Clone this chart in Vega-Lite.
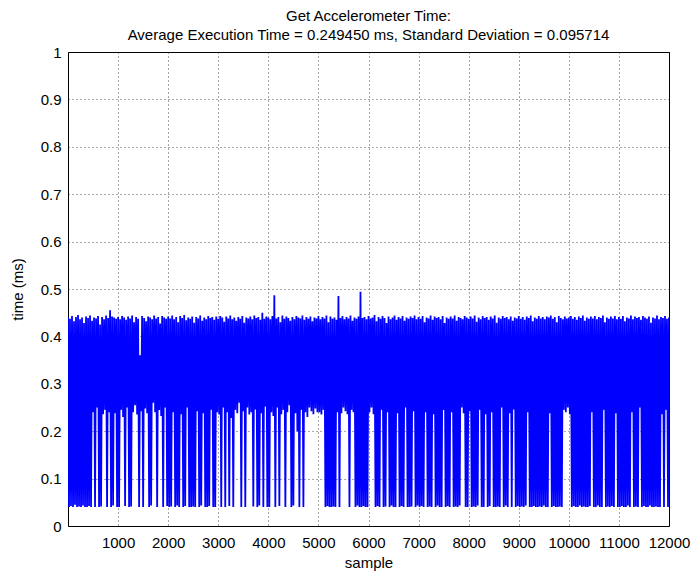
{
"$schema": "https://vega.github.io/schema/vega-lite/v6.json",
"width": 601, "height": 474,
"autosize": {"type": "none"},
"padding": {"left": 68, "top": 52, "right": 25, "bottom": 47},
"background": "white",
"title": {"text": ["Get Accelerometer Time:", "Average Execution Time = 0.249450 ms, Standard Deviation = 0.095714"], "font": "Liberation Sans", "fontSize": 15, "fontWeight": "normal", "lineHeight": 19, "offset": 2, "color": "black"},
"config": {
 "view": {"stroke": "black", "strokeWidth": 1},
 "axis": {"domain": false, "ticks": false, "labelOverlap": false, "labelFlush": false, "labelFont": "Liberation Sans", "labelFontSize": 15, "labelColor": "black", "titleFont": "Liberation Sans", "titleFontSize": 15, "titleFontWeight": "normal", "titleColor": "black", "grid": true, "gridColor": "black", "gridDash": [1, 3], "gridOpacity": 0.7, "gridWidth": 1}
},
"data": {"values": [
{"s":0,"t":0.44},{"s":20,"t":0.04},{"s":40,"t":0.437},{"s":60,"t":0.042},{"s":80,"t":0.443},{"s":100,"t":0.04},{"s":120,"t":0.432},{"s":140,"t":0.045},{"s":160,"t":0.441},{"s":180,"t":0.04},{"s":200,"t":0.445},{"s":220,"t":0.041},{"s":240,"t":0.436},{"s":260,"t":0.04},{"s":280,"t":0.44},{"s":300,"t":0.043},{"s":320,"t":0.428},{"s":340,"t":0.04},{"s":360,"t":0.442},{"s":380,"t":0.04},{"s":400,"t":0.439},{"s":420,"t":0.042},{"s":440,"t":0.444},{"s":460,"t":0.04},{"s":480,"t":0.433},{"s":500,"t":0.24},{"s":520,"t":0.44},{"s":540,"t":0.04},{"s":560,"t":0.438},{"s":580,"t":0.25},{"s":600,"t":0.443},{"s":620,"t":0.04},{"s":640,"t":0.425},{"s":660,"t":0.041},{"s":680,"t":0.441},{"s":700,"t":0.236},{"s":720,"t":0.436},{"s":740,"t":0.245},{"s":760,"t":0.444},{"s":780,"t":0.04},{"s":800,"t":0.439},{"s":820,"t":0.24},{"s":840,"t":0.455},{"s":860,"t":0.04},{"s":880,"t":0.442},{"s":900,"t":0.043},{"s":920,"t":0.44},{"s":940,"t":0.238},{"s":960,"t":0.437},{"s":980,"t":0.04},
{"s":1000,"t":0.441},{"s":1020,"t":0.04},{"s":1040,"t":0.436},{"s":1060,"t":0.245},{"s":1080,"t":0.443},{"s":1100,"t":0.23},{"s":1120,"t":0.44},{"s":1140,"t":0.042},{"s":1160,"t":0.435},{"s":1180,"t":0.25},{"s":1200,"t":0.442},{"s":1220,"t":0.04},{"s":1240,"t":0.438},{"s":1260,"t":0.041},{"s":1280,"t":0.444},{"s":1300,"t":0.24},{"s":1320,"t":0.43},{"s":1340,"t":0.255},{"s":1360,"t":0.441},{"s":1380,"t":0.235},{"s":1400,"t":0.437},{"s":1420,"t":0.04},{"s":1440,"t":0.36},{"s":1460,"t":0.242},{"s":1480,"t":0.443},{"s":1500,"t":0.04},{"s":1520,"t":0.439},{"s":1540,"t":0.248},{"s":1560,"t":0.432},{"s":1580,"t":0.238},{"s":1600,"t":0.442},{"s":1620,"t":0.04},{"s":1640,"t":0.44},{"s":1660,"t":0.043},{"s":1680,"t":0.436},{"s":1700,"t":0.26},{"s":1720,"t":0.444},{"s":1740,"t":0.24},{"s":1760,"t":0.438},{"s":1780,"t":0.04},{"s":1800,"t":0.441},{"s":1820,"t":0.245},{"s":1840,"t":0.427},{"s":1860,"t":0.232},{"s":1880,"t":0.443},{"s":1900,"t":0.04},{"s":1920,"t":0.44},{"s":1940,"t":0.25},{"s":1960,"t":0.437},{"s":1980,"t":0.042},
{"s":2000,"t":0.442},{"s":2020,"t":0.04},{"s":2040,"t":0.438},{"s":2060,"t":0.041},{"s":2080,"t":0.444},{"s":2100,"t":0.24},{"s":2120,"t":0.436},{"s":2140,"t":0.04},{"s":2160,"t":0.441},{"s":2180,"t":0.043},{"s":2200,"t":0.43},{"s":2220,"t":0.04},{"s":2240,"t":0.443},{"s":2260,"t":0.236},{"s":2280,"t":0.439},{"s":2300,"t":0.04},{"s":2320,"t":0.445},{"s":2340,"t":0.042},{"s":2360,"t":0.434},{"s":2380,"t":0.25},{"s":2400,"t":0.44},{"s":2420,"t":0.04},{"s":2440,"t":0.437},{"s":2460,"t":0.04},{"s":2480,"t":0.442},{"s":2500,"t":0.041},{"s":2520,"t":0.429},{"s":2540,"t":0.04},{"s":2560,"t":0.441},{"s":2580,"t":0.242},{"s":2600,"t":0.438},{"s":2620,"t":0.04},{"s":2640,"t":0.444},{"s":2660,"t":0.043},{"s":2680,"t":0.433},{"s":2700,"t":0.238},{"s":2720,"t":0.44},{"s":2740,"t":0.04},{"s":2760,"t":0.436},{"s":2780,"t":0.04},{"s":2800,"t":0.443},{"s":2820,"t":0.042},{"s":2840,"t":0.439},{"s":2860,"t":0.245},{"s":2880,"t":0.441},{"s":2900,"t":0.04},{"s":2920,"t":0.435},{"s":2940,"t":0.04},{"s":2960,"t":0.442},{"s":2980,"t":0.24},
{"s":3000,"t":0.437},{"s":3020,"t":0.235},{"s":3040,"t":0.443},{"s":3060,"t":0.04},{"s":3080,"t":0.44},{"s":3100,"t":0.25},{"s":3120,"t":0.431},{"s":3140,"t":0.04},{"s":3160,"t":0.442},{"s":3180,"t":0.24},{"s":3200,"t":0.438},{"s":3220,"t":0.042},{"s":3240,"t":0.444},{"s":3260,"t":0.228},{"s":3280,"t":0.436},{"s":3300,"t":0.04},{"s":3320,"t":0.44},{"s":3340,"t":0.245},{"s":3360,"t":0.433},{"s":3380,"t":0.238},{"s":3400,"t":0.441},{"s":3420,"t":0.26},{"s":3440,"t":0.437},{"s":3460,"t":0.04},{"s":3480,"t":0.443},{"s":3500,"t":0.242},{"s":3520,"t":0.429},{"s":3540,"t":0.04},{"s":3560,"t":0.44},{"s":3580,"t":0.25},{"s":3600,"t":0.438},{"s":3620,"t":0.235},{"s":3640,"t":0.442},{"s":3660,"t":0.24},{"s":3680,"t":0.436},{"s":3700,"t":0.041},{"s":3720,"t":0.444},{"s":3740,"t":0.246},{"s":3760,"t":0.439},{"s":3780,"t":0.04},{"s":3800,"t":0.441},{"s":3820,"t":0.043},{"s":3840,"t":0.435},{"s":3860,"t":0.238},{"s":3880,"t":0.45},{"s":3900,"t":0.04},{"s":3920,"t":0.437},{"s":3940,"t":0.252},{"s":3960,"t":0.442},{"s":3980,"t":0.04},
{"s":4000,"t":0.44},{"s":4020,"t":0.04},{"s":4040,"t":0.436},{"s":4060,"t":0.24},{"s":4080,"t":0.443},{"s":4100,"t":0.232},{"s":4120,"t":0.487},{"s":4140,"t":0.04},{"s":4160,"t":0.438},{"s":4180,"t":0.25},{"s":4200,"t":0.441},{"s":4220,"t":0.042},{"s":4240,"t":0.43},{"s":4260,"t":0.236},{"s":4280,"t":0.444},{"s":4300,"t":0.245},{"s":4320,"t":0.437},{"s":4340,"t":0.04},{"s":4360,"t":0.442},{"s":4380,"t":0.24},{"s":4400,"t":0.439},{"s":4420,"t":0.255},{"s":4440,"t":0.433},{"s":4460,"t":0.04},{"s":4480,"t":0.441},{"s":4500,"t":0.043},{"s":4520,"t":0.436},{"s":4540,"t":0.238},{"s":4560,"t":0.443},{"s":4580,"t":0.2},{"s":4600,"t":0.44},{"s":4620,"t":0.04},{"s":4640,"t":0.438},{"s":4660,"t":0.245},{"s":4680,"t":0.444},{"s":4700,"t":0.04},{"s":4720,"t":0.435},{"s":4740,"t":0.24},{"s":4760,"t":0.441},{"s":4780,"t":0.23},{"s":4800,"t":0.437},{"s":4820,"t":0.25},{"s":4840,"t":0.442},{"s":4860,"t":0.242},{"s":4880,"t":0.432},{"s":4900,"t":0.236},{"s":4920,"t":0.44},{"s":4940,"t":0.248},{"s":4960,"t":0.438},{"s":4980,"t":0.24},
{"s":5000,"t":0.443},{"s":5020,"t":0.24},{"s":5040,"t":0.436},{"s":5060,"t":0.235},{"s":5080,"t":0.441},{"s":5100,"t":0.245},{"s":5120,"t":0.438},{"s":5140,"t":0.04},{"s":5160,"t":0.444},{"s":5180,"t":0.042},{"s":5200,"t":0.43},{"s":5220,"t":0.04},{"s":5240,"t":0.442},{"s":5260,"t":0.04},{"s":5280,"t":0.437},{"s":5300,"t":0.041},{"s":5320,"t":0.44},{"s":5340,"t":0.04},{"s":5360,"t":0.435},{"s":5380,"t":0.24},{"s":5400,"t":0.485},{"s":5420,"t":0.04},{"s":5440,"t":0.439},{"s":5460,"t":0.238},{"s":5480,"t":0.443},{"s":5500,"t":0.25},{"s":5520,"t":0.436},{"s":5540,"t":0.242},{"s":5560,"t":0.441},{"s":5580,"t":0.236},{"s":5600,"t":0.438},{"s":5620,"t":0.04},{"s":5640,"t":0.444},{"s":5660,"t":0.245},{"s":5680,"t":0.433},{"s":5700,"t":0.24},{"s":5720,"t":0.44},{"s":5740,"t":0.04},{"s":5760,"t":0.437},{"s":5780,"t":0.043},{"s":5800,"t":0.442},{"s":5820,"t":0.04},{"s":5840,"t":0.494},{"s":5860,"t":0.04},{"s":5880,"t":0.439},{"s":5900,"t":0.042},{"s":5920,"t":0.441},{"s":5940,"t":0.04},{"s":5960,"t":0.436},{"s":5980,"t":0.04},
{"s":6000,"t":0.443},{"s":6020,"t":0.24},{"s":6040,"t":0.438},{"s":6060,"t":0.25},{"s":6080,"t":0.44},{"s":6100,"t":0.236},{"s":6120,"t":0.445},{"s":6140,"t":0.04},{"s":6160,"t":0.432},{"s":6180,"t":0.042},{"s":6200,"t":0.441},{"s":6220,"t":0.04},{"s":6240,"t":0.437},{"s":6260,"t":0.245},{"s":6280,"t":0.443},{"s":6300,"t":0.04},{"s":6320,"t":0.439},{"s":6340,"t":0.041},{"s":6360,"t":0.428},{"s":6380,"t":0.24},{"s":6400,"t":0.442},{"s":6420,"t":0.04},{"s":6440,"t":0.436},{"s":6460,"t":0.043},{"s":6480,"t":0.44},{"s":6500,"t":0.04},{"s":6520,"t":0.444},{"s":6540,"t":0.04},{"s":6560,"t":0.435},{"s":6580,"t":0.238},{"s":6600,"t":0.441},{"s":6620,"t":0.04},{"s":6640,"t":0.438},{"s":6660,"t":0.042},{"s":6680,"t":0.443},{"s":6700,"t":0.04},{"s":6720,"t":0.433},{"s":6740,"t":0.25},{"s":6760,"t":0.44},{"s":6780,"t":0.04},{"s":6800,"t":0.437},{"s":6820,"t":0.04},{"s":6840,"t":0.442},{"s":6860,"t":0.041},{"s":6880,"t":0.439},{"s":6900,"t":0.242},{"s":6920,"t":0.444},{"s":6940,"t":0.04},{"s":6960,"t":0.436},{"s":6980,"t":0.043},
{"s":7000,"t":0.441},{"s":7020,"t":0.04},{"s":7040,"t":0.437},{"s":7060,"t":0.042},{"s":7080,"t":0.443},{"s":7100,"t":0.04},{"s":7120,"t":0.43},{"s":7140,"t":0.24},{"s":7160,"t":0.44},{"s":7180,"t":0.04},{"s":7200,"t":0.438},{"s":7220,"t":0.041},{"s":7240,"t":0.444},{"s":7260,"t":0.04},{"s":7280,"t":0.435},{"s":7300,"t":0.236},{"s":7320,"t":0.442},{"s":7340,"t":0.04},{"s":7360,"t":0.439},{"s":7380,"t":0.043},{"s":7400,"t":0.441},{"s":7420,"t":0.04},{"s":7440,"t":0.436},{"s":7460,"t":0.04},{"s":7480,"t":0.443},{"s":7500,"t":0.245},{"s":7520,"t":0.428},{"s":7540,"t":0.04},{"s":7560,"t":0.44},{"s":7580,"t":0.042},{"s":7600,"t":0.437},{"s":7620,"t":0.04},{"s":7640,"t":0.442},{"s":7660,"t":0.24},{"s":7680,"t":0.438},{"s":7700,"t":0.04},{"s":7720,"t":0.444},{"s":7740,"t":0.041},{"s":7760,"t":0.433},{"s":7780,"t":0.04},{"s":7800,"t":0.441},{"s":7820,"t":0.043},{"s":7840,"t":0.439},{"s":7860,"t":0.25},{"s":7880,"t":0.436},{"s":7900,"t":0.238},{"s":7920,"t":0.443},{"s":7940,"t":0.04},{"s":7960,"t":0.44},{"s":7980,"t":0.04},
{"s":8000,"t":0.437},{"s":8020,"t":0.242},{"s":8040,"t":0.442},{"s":8060,"t":0.04},{"s":8080,"t":0.438},{"s":8100,"t":0.041},{"s":8120,"t":0.444},{"s":8140,"t":0.04},{"s":8160,"t":0.431},{"s":8180,"t":0.043},{"s":8200,"t":0.44},{"s":8220,"t":0.245},{"s":8240,"t":0.436},{"s":8260,"t":0.04},{"s":8280,"t":0.443},{"s":8300,"t":0.04},{"s":8320,"t":0.439},{"s":8340,"t":0.236},{"s":8360,"t":0.441},{"s":8380,"t":0.04},{"s":8400,"t":0.435},{"s":8420,"t":0.042},{"s":8440,"t":0.442},{"s":8460,"t":0.24},{"s":8480,"t":0.438},{"s":8500,"t":0.04},{"s":8520,"t":0.444},{"s":8540,"t":0.04},{"s":8560,"t":0.429},{"s":8580,"t":0.041},{"s":8600,"t":0.44},{"s":8620,"t":0.04},{"s":8640,"t":0.437},{"s":8660,"t":0.25},{"s":8680,"t":0.443},{"s":8700,"t":0.04},{"s":8720,"t":0.439},{"s":8740,"t":0.043},{"s":8760,"t":0.441},{"s":8780,"t":0.04},{"s":8800,"t":0.436},{"s":8820,"t":0.238},{"s":8840,"t":0.442},{"s":8860,"t":0.04},{"s":8880,"t":0.433},{"s":8900,"t":0.246},{"s":8920,"t":0.44},{"s":8940,"t":0.04},{"s":8960,"t":0.438},{"s":8980,"t":0.042},
{"s":9000,"t":0.443},{"s":9020,"t":0.04},{"s":9040,"t":0.437},{"s":9060,"t":0.041},{"s":9080,"t":0.441},{"s":9100,"t":0.04},{"s":9120,"t":0.435},{"s":9140,"t":0.043},{"s":9160,"t":0.442},{"s":9180,"t":0.24},{"s":9200,"t":0.439},{"s":9220,"t":0.04},{"s":9240,"t":0.444},{"s":9260,"t":0.04},{"s":9280,"t":0.432},{"s":9300,"t":0.042},{"s":9320,"t":0.44},{"s":9340,"t":0.04},{"s":9360,"t":0.437},{"s":9380,"t":0.04},{"s":9400,"t":0.443},{"s":9420,"t":0.041},{"s":9440,"t":0.438},{"s":9460,"t":0.04},{"s":9480,"t":0.441},{"s":9500,"t":0.043},{"s":9520,"t":0.436},{"s":9540,"t":0.04},{"s":9560,"t":0.442},{"s":9580,"t":0.04},{"s":9600,"t":0.44},{"s":9620,"t":0.238},{"s":9640,"t":0.444},{"s":9660,"t":0.04},{"s":9680,"t":0.437},{"s":9700,"t":0.042},{"s":9720,"t":0.441},{"s":9740,"t":0.04},{"s":9760,"t":0.43},{"s":9780,"t":0.04},{"s":9800,"t":0.443},{"s":9820,"t":0.041},{"s":9840,"t":0.439},{"s":9860,"t":0.04},{"s":9880,"t":0.436},{"s":9900,"t":0.245},{"s":9920,"t":0.442},{"s":9940,"t":0.24},{"s":9960,"t":0.438},{"s":9980,"t":0.25},
{"s":10000,"t":0.44},{"s":10020,"t":0.236},{"s":10040,"t":0.443},{"s":10060,"t":0.04},{"s":10080,"t":0.437},{"s":10100,"t":0.042},{"s":10120,"t":0.441},{"s":10140,"t":0.04},{"s":10160,"t":0.435},{"s":10180,"t":0.04},{"s":10200,"t":0.442},{"s":10220,"t":0.043},{"s":10240,"t":0.439},{"s":10260,"t":0.04},{"s":10280,"t":0.444},{"s":10300,"t":0.041},{"s":10320,"t":0.433},{"s":10340,"t":0.04},{"s":10360,"t":0.44},{"s":10380,"t":0.04},{"s":10400,"t":0.437},{"s":10420,"t":0.042},{"s":10440,"t":0.442},{"s":10460,"t":0.24},{"s":10480,"t":0.438},{"s":10500,"t":0.04},{"s":10520,"t":0.443},{"s":10540,"t":0.04},{"s":10560,"t":0.436},{"s":10580,"t":0.043},{"s":10600,"t":0.441},{"s":10620,"t":0.04},{"s":10640,"t":0.439},{"s":10660,"t":0.04},{"s":10680,"t":0.444},{"s":10700,"t":0.245},{"s":10720,"t":0.43},{"s":10740,"t":0.04},{"s":10760,"t":0.44},{"s":10780,"t":0.041},{"s":10800,"t":0.437},{"s":10820,"t":0.04},{"s":10840,"t":0.442},{"s":10860,"t":0.042},{"s":10880,"t":0.438},{"s":10900,"t":0.04},{"s":10920,"t":0.443},{"s":10940,"t":0.238},{"s":10960,"t":0.436},{"s":10980,"t":0.04},
{"s":11000,"t":0.441},{"s":11020,"t":0.04},{"s":11040,"t":0.437},{"s":11060,"t":0.042},{"s":11080,"t":0.443},{"s":11100,"t":0.04},{"s":11120,"t":0.432},{"s":11140,"t":0.04},{"s":11160,"t":0.44},{"s":11180,"t":0.043},{"s":11200,"t":0.438},{"s":11220,"t":0.04},{"s":11240,"t":0.444},{"s":11260,"t":0.24},{"s":11280,"t":0.436},{"s":11300,"t":0.04},{"s":11320,"t":0.442},{"s":11340,"t":0.041},{"s":11360,"t":0.439},{"s":11380,"t":0.04},{"s":11400,"t":0.441},{"s":11420,"t":0.25},{"s":11440,"t":0.435},{"s":11460,"t":0.04},{"s":11480,"t":0.443},{"s":11500,"t":0.042},{"s":11520,"t":0.44},{"s":11540,"t":0.04},{"s":11560,"t":0.437},{"s":11580,"t":0.04},{"s":11600,"t":0.442},{"s":11620,"t":0.043},{"s":11640,"t":0.429},{"s":11660,"t":0.04},{"s":11680,"t":0.44},{"s":11700,"t":0.04},{"s":11720,"t":0.438},{"s":11740,"t":0.041},{"s":11760,"t":0.444},{"s":11780,"t":0.04},{"s":11800,"t":0.436},{"s":11820,"t":0.04},{"s":11840,"t":0.441},{"s":11860,"t":0.236},{"s":11880,"t":0.439},{"s":11900,"t":0.04},{"s":11920,"t":0.443},{"s":11940,"t":0.245},{"s":11960,"t":0.437},{"s":11980,"t":0.04},{"s":12000,"t":0.44}
]},
"mark": {"type": "line", "color": "#0000ff", "strokeWidth": 1.8, "clip": true},
"encoding": {
 "x": {"field": "s", "type": "quantitative", "scale": {"domain": [0, 12000], "nice": false, "zero": false}, "axis": {"values": [1000,2000,3000,4000,5000,6000,7000,8000,9000,10000,11000,12000], "format": "d", "title": "sample", "labelPadding": 9, "titlePadding": 5}},
 "y": {"field": "t", "type": "quantitative", "scale": {"domain": [0, 1], "nice": false}, "axis": {"values": [0,0.1,0.2,0.3,0.4,0.5,0.6,0.7,0.8,0.9,1], "format": "~g", "title": "time (ms)", "labelPadding": 7, "titlePadding": 15}}
}
}
